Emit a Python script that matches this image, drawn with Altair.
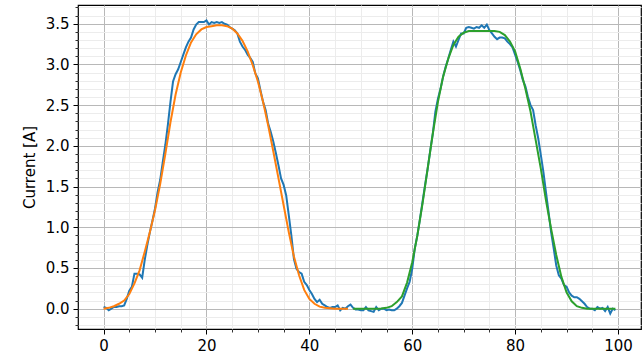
import altair as alt
import pandas as pd

# ---- data ----
blue_x = [i * 0.5 for i in range(200)]
blue_y = [
    0.02, 0.01, -0.02, 0.00, 0.02, 0.02, 0.03, 0.03, 0.04, 0.12,
    0.22, 0.27, 0.43, 0.43, 0.42, 0.38, 0.60, 0.78, 0.94, 1.08,
    1.23, 1.43, 1.58, 1.80, 2.01, 2.26, 2.54, 2.79, 2.88, 2.94,
    3.03, 3.12, 3.21, 3.28, 3.33, 3.43, 3.49, 3.52, 3.52, 3.52,
    3.54, 3.49, 3.52, 3.51, 3.52, 3.51, 3.52, 3.50, 3.49, 3.46,
    3.44, 3.42, 3.38, 3.28, 3.22, 3.18, 3.12, 3.08, 3.03, 2.89,
    2.83, 2.68, 2.54, 2.44, 2.27, 2.17, 2.05, 1.91, 1.76, 1.60,
    1.52, 1.39, 1.15, 0.90, 0.61, 0.49, 0.45, 0.43, 0.33, 0.29,
    0.23, 0.18, 0.12, 0.08, 0.11, 0.06, 0.04, 0.02, 0.01, 0.02,
    0.02, 0.04, -0.02, 0.01, 0.00, 0.03, 0.05, 0.01, -0.01, -0.01,
    -0.02, -0.02, 0.02, -0.02, -0.03, -0.04, 0.02, -0.02, 0.00, 0.00,
    -0.02, -0.01, -0.02, -0.02, 0.00, 0.03, 0.07, 0.16, 0.25, 0.33,
    0.49, 0.74, 0.90, 1.10, 1.31, 1.52, 1.72, 1.94, 2.15, 2.42,
    2.58, 2.70, 2.85, 2.97, 3.07, 3.18, 3.28, 3.22, 3.30, 3.38,
    3.38, 3.45, 3.46, 3.45, 3.44, 3.46, 3.45, 3.48, 3.45, 3.49,
    3.42, 3.38, 3.34, 3.31, 3.33, 3.33, 3.32, 3.28, 3.25, 3.21,
    3.12, 3.03, 2.93, 2.81, 2.73, 2.60, 2.50, 2.44, 2.25, 2.09,
    1.89, 1.68, 1.43, 1.19, 0.94, 0.74, 0.53, 0.41, 0.37, 0.29,
    0.27, 0.20, 0.16, 0.14, 0.14, 0.12, 0.09, 0.06, 0.02, 0.00,
    0.00, -0.02, 0.02, 0.00, 0.01, -0.03, 0.02, -0.06, 0.00, -0.02,
]

orange_x = list(range(0, 48)) + [47.5]
orange_y = [
    0.00, 0.01, 0.03, 0.06, 0.10, 0.18, 0.31, 0.47, 0.70, 0.94,
    1.21, 1.53, 1.90, 2.29, 2.63, 2.90, 3.11, 3.27, 3.37, 3.43,
    3.46, 3.47, 3.48, 3.48, 3.47, 3.44, 3.38, 3.29, 3.16, 2.99,
    2.79, 2.54, 2.25, 1.93, 1.60, 1.27, 0.94, 0.64, 0.41, 0.23,
    0.12, 0.06, 0.025, 0.01, 0.005, 0.00, 0.00, 0.00, 0.00,
]

green_x = [48.5] + list(range(49, 100)) + [99.5]
green_y = [
    0.00, 0.00, 0.00, 0.00, 0.00, 0.00, 0.003, 0.01, 0.03, 0.08,
    0.15, 0.32, 0.57, 0.90, 1.29, 1.72, 2.15, 2.54, 2.85, 3.07,
    3.24, 3.34, 3.39, 3.41, 3.41, 3.41, 3.41, 3.41, 3.41, 3.40,
    3.36, 3.28, 3.16, 2.95, 2.70, 2.42, 2.07, 1.72, 1.33, 0.98,
    0.66, 0.39, 0.20, 0.09, 0.03, 0.01, 0.00, 0.00, 0.00, 0.00,
    0.00, 0.00, 0.00,
]

x_major = [0, 20, 40, 60, 80, 100]
x_minor = [5, 10, 15, 25, 30, 35, 45, 50, 55, 65, 70, 75, 85, 90, 95]
y_major = [0.0, 0.5, 1.0, 1.5, 2.0, 2.5, 3.0, 3.5]
y_minor = [round(v / 10, 1) for v in range(-2, 38) if v % 5 != 0]

df_blue = pd.DataFrame({"x": blue_x, "y": blue_y})
df_orange = pd.DataFrame({"x": orange_x, "y": orange_y})
df_green = pd.DataFrame({"x": green_x, "y": green_y})

FONT = "DejaVu Sans"
xscale = alt.Scale(domain=[-4.975, 104.475], nice=False, zero=False)
yscale = alt.Scale(domain=[-0.25, 3.73], nice=False, zero=False)

x_minor_axis = alt.Axis(values=x_minor, labels=False, tickSize=3, tickColor="black",
                        tickWidth=0.8, grid=True, gridColor="#ececec", gridWidth=1,
                        domain=False, title=None, orient="bottom")
y_minor_axis = alt.Axis(values=y_minor, labels=False, tickSize=3, tickColor="black",
                        tickWidth=0.8, grid=True, gridColor="#ececec", gridWidth=1,
                        domain=False, title=None, orient="left")
x_major_axis = alt.Axis(values=x_major, format="d", tickSize=5, tickColor="black",
                        tickWidth=1, grid=True, gridColor="#b8b8b8", gridWidth=1,
                        domain=False, title=None, orient="bottom",
                        labelFont=FONT, labelFontSize=15, labelColor="black",
                        labelPadding=4, labelOverlap=False, labelFlush=False)
y_major_axis = alt.Axis(values=y_major, format=".1f", tickSize=5, tickColor="black",
                        tickWidth=1, grid=True, gridColor="#b8b8b8", gridWidth=1,
                        domain=False, title="Current [A]", orient="left",
                        labelFont=FONT, labelFontSize=15, labelColor="black",
                        labelPadding=4, labelOverlap=False,
                        titleFont=FONT, titleFontSize=15, titleFontWeight="normal",
                        titleColor="black", titlePadding=8)

minor = alt.Chart(df_blue).mark_line(opacity=0).encode(
    x=alt.X("x:Q", scale=xscale, axis=x_minor_axis),
    y=alt.Y("y:Q", scale=yscale, axis=y_minor_axis),
)
blue = alt.Chart(df_blue).mark_line(color="#1f77b4", strokeWidth=2).encode(
    x=alt.X("x:Q", scale=xscale, axis=x_major_axis),
    y=alt.Y("y:Q", scale=yscale, axis=y_major_axis),
)
orange = alt.Chart(df_orange).mark_line(color="#ff7f0e", strokeWidth=2).encode(
    x=alt.X("x:Q", scale=xscale, axis=None),
    y=alt.Y("y:Q", scale=yscale, axis=None),
)
green = alt.Chart(df_green).mark_line(color="#2ca02c", strokeWidth=2).encode(
    x=alt.X("x:Q", scale=xscale, axis=None),
    y=alt.Y("y:Q", scale=yscale, axis=None),
)

chart = (
    alt.layer(minor, blue, orange, green)
    .resolve_axis(x="independent", y="independent")
    .properties(
        width=563, height=324,
        padding={"left": 78, "top": 5, "right": 3, "bottom": 28},
        autosize=alt.AutoSizeParams(type="none"),
        background="white",
    )
    .configure_view(stroke="black", strokeWidth=1.2)
)

chart.save("out.html", embed_options={"renderer": "svg", "actions": False})
